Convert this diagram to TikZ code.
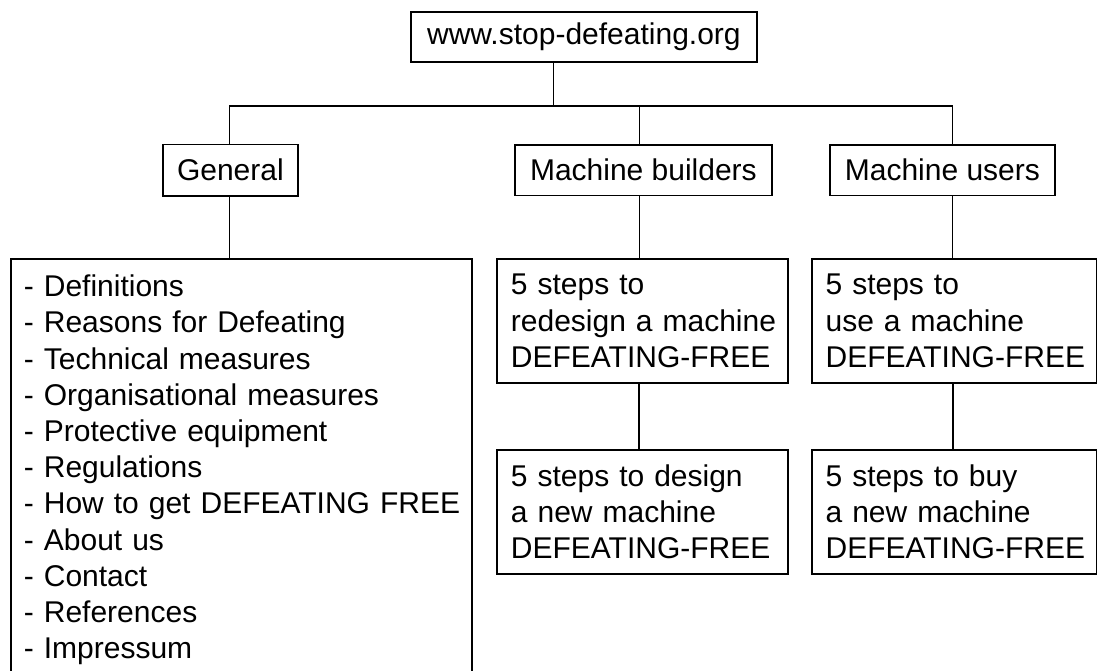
\documentclass[tikz,border=0pt]{standalone}
\usepackage{fontspec}
\setmainfont{Liberation Sans}
\begin{document}
\begin{tikzpicture}[x=1pt,y=-1pt,
  txt/.style={font=\fontsize{30}{36.2}\selectfont},
  hbox/.style={txt,draw=black,line width=1.8pt,anchor=north west,inner sep=0pt},
  lbox/.style={hbox,align=left},
  thinline/.style={draw=black,line width=1.1pt},
  thickline/.style={draw=black,line width=1.8pt}]
\clip (0,0) rectangle (1097,670);
\fill[white] (0,0) rectangle (1097,670);
% boxes
\node[hbox,minimum width=346pt,minimum height=50pt] (top) at (410,11) {www.stop-defeating.org};
\node[hbox,minimum width=135pt,minimum height=51.5pt] (gen) at (162,143.5) {General};
\node[hbox,minimum width=257pt,minimum height=50.5pt] (mb) at (514,144) {Machine builders};
\node[hbox,minimum width=225pt,minimum height=50.5pt] (mu) at (829,144) {Machine users};
\node[lbox,text width=435pt,inner xsep=13pt,minimum height=422pt] (list) at (10,258)
  {\mbox{- Definitions}\\\mbox{- Reasons for Defeating}\\\mbox{- Technical measures}\\\mbox{- Organisational measures}\\\mbox{- Protective equipment}\\\mbox{- Regulations}\\\mbox{- How to get DEFEATING FREE}\\\mbox{- About us}\\\mbox{- Contact}\\\mbox{- References}\\\mbox{- Impressum}};
\node[lbox,text width=262.7pt,inner xsep=14pt,minimum height=124pt] (mb1) at (496,258)
  {\mbox{5 steps to}\\\mbox{redesign a machine}\\\mbox{DEFEATING-FREE}};
\node[lbox,text width=262.7pt,inner xsep=14pt,minimum height=124pt] (mb2) at (496,449)
  {\mbox{5 steps to design}\\\mbox{a new machine}\\\mbox{DEFEATING-FREE}};
\node[lbox,text width=257.3pt,inner xsep=14pt,minimum height=124pt] (mu1) at (810.7,258)
  {\mbox{5 steps to}\\\mbox{use a machine}\\\mbox{DEFEATING-FREE}};
\node[lbox,text width=257.3pt,inner xsep=14pt,minimum height=124pt] (mu2) at (810.7,449)
  {\mbox{5 steps to buy}\\\mbox{a new machine}\\\mbox{DEFEATING-FREE}};
% junctions
\coordinate (j0) at (553.7,106);
\coordinate (jg) at (229.3,106);
\coordinate (jb) at (639.3,106);
\coordinate (ju) at (952.7,106);
% connectors
\draw[thinline] (j0 |- top.south) -- (j0);
\draw[thinline] (jg) -- (ju);
\draw[thinline] (jg) -- (jg |- gen.north);
\draw[thinline] (jb) -- (jb |- mb.north);
\draw[thinline] (ju) -- (ju |- mu.north);
\draw[thinline] (jg |- gen.south) -- (jg |- list.north);
\draw[thinline] (jb |- mb.south) -- (jb |- mb1.north);
\draw[thinline] (ju |- mu.south) -- (ju |- mu1.north);
\draw[thickline] (jb |- mb1.south) -- (jb |- mb2.north);
\draw[thickline] (ju |- mu1.south) -- (ju |- mu2.north);
\end{tikzpicture}
\end{document}
